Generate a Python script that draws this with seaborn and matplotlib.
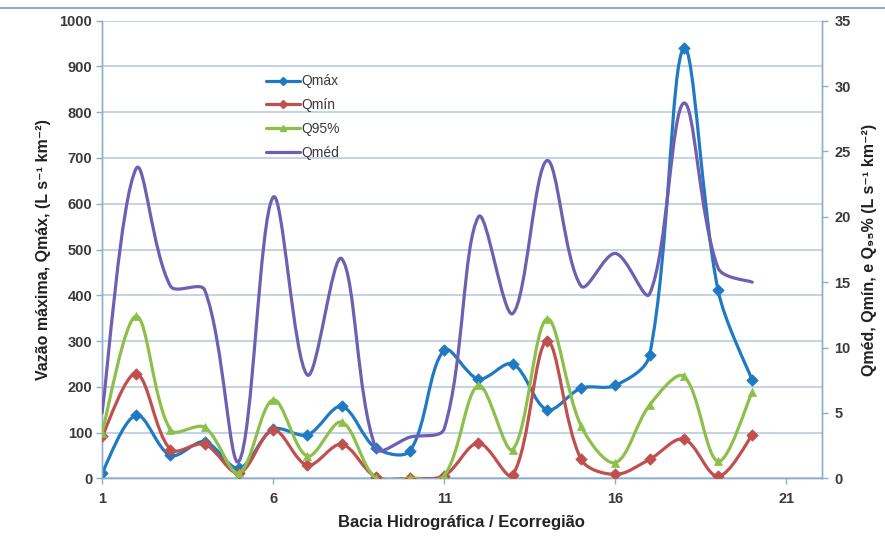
import numpy as np
import matplotlib
matplotlib.use("Agg")
import matplotlib.pyplot as plt
from matplotlib.path import Path
from matplotlib.patches import PathPatch
from matplotlib.lines import Line2D
import seaborn as sns

# data
bacia = list(range(1, 21))
q_max = [12, 138, 50, 80, 22, 107, 95, 157, 66, 60, 280, 217, 250, 150, 197, 203, 269, 940, 411, 214]
q_min = [3.2, 8.0, 2.2, 2.6, 0.4, 3.7, 1.0, 2.6, 0.1, 0.0, 0.2, 2.7, 0.25, 10.5, 1.45, 0.3, 1.45, 3.0, 0.15, 3.3]
q_95 = [3.5, 12.4, 3.7, 3.9, 0.4, 6.0, 1.7, 4.3, 0.0, 0.0, 0.2, 7.1, 2.2, 12.2, 4.0, 1.2, 5.6, 7.8, 1.3, 6.6]
q_med = [5.0, 23.7, 14.7, 14.4, 1.3, 21.5, 7.9, 16.8, 2.3, 3.15, 3.8, 20.0, 12.6, 24.3, 14.7, 17.2, 14.1, 28.7, 16.1, 15.0]

c_max = "#2079C3"
c_min = "#C0504D"
c_95 = "#8DC04A"
c_med = "#6F5FB0"
grid_c = "#B7CCE0"
axis_c = "#8EAECB"
txt_c = "#3a3a3a"

sns.set_style("white")
plt.rcParams["font.family"] = ["Liberation Sans", "DejaVu Sans"]


def smooth_path(ax, x, y):
    # excel-like smoothed line: bezier through each point, tangents weighted
    # by segment length on screen
    pix = ax.transData.transform(np.column_stack([x, y]).astype(float))
    n = len(pix)
    d = np.hypot(*np.diff(pix, axis=0).T)
    verts = [pix[0]]
    codes = [Path.MOVETO]
    for i in range(n - 1):
        a = max(i - 1, 0)
        b = min(i + 2, n - 1)
        da = d[i - 1] if i > 0 else d[i]
        db = d[i + 1] if i + 2 < n else d[i]
        c1 = pix[i] + (pix[i + 1] - pix[a]) * d[i] / (da + d[i]) / 3
        c2 = pix[i + 1] - (pix[b] - pix[i]) * d[i] / (d[i] + db) / 3
        verts += [c1, c2, pix[i + 1]]
        codes += [Path.CURVE4] * 3
    verts = ax.transData.inverted().transform(np.array(verts))
    return Path(verts, codes)


def draw_series(ax, y, color, marker, z):
    ax.add_patch(PathPatch(smooth_path(ax, bacia, y), fill=False, edgecolor=color,
                           lw=2.3, zorder=z, capstyle="round", joinstyle="round"))
    if marker:
        sns.scatterplot(x=bacia, y=y, ax=ax, color=color, marker=marker, s=34,
                        edgecolor=color, linewidth=0.5, zorder=z + 0.5, legend=False)


fig = plt.figure(figsize=(8.85, 5.39), dpi=100)
ax = fig.add_axes([0.1153, 0.1126, 0.8132, 0.849])
ax2 = ax.twinx()

# left axis
ax.set_xlim(1, 22.03)
ax.set_ylim(0, 1000)
ax.set_yticks(range(0, 1001, 100))
ax.set_xticks([1, 6, 11, 16, 21])
ax.yaxis.grid(True, color=grid_c, lw=1.2)
ax.set_axisbelow(True)

# right axis
ax2.set_xlim(1, 22.03)
ax2.set_ylim(0, 35)
ax2.set_yticks(range(0, 36, 5))

draw_series(ax, q_max, c_max, "D", 3)
draw_series(ax2, q_min, c_min, "D", 3)
draw_series(ax2, q_95, c_95, "^", 4)
draw_series(ax2, q_med, c_med, None, 5)

for a in (ax, ax2):
    for s in a.spines.values():
        s.set_color(axis_c)
        s.set_linewidth(1.0)
    a.spines["top"].set_visible(False)
    a.tick_params(axis="both", colors=axis_c, labelcolor=txt_c, labelsize=10.5,
                  length=4, width=1, pad=3)
    for lab in a.get_xticklabels() + a.get_yticklabels():
        lab.set_fontweight("bold")
ax.tick_params(axis="both", direction="out", left=True, bottom=True)
ax.tick_params(axis="x", pad=6)
ax2.tick_params(axis="y", direction="out", right=True, pad=5)

ax.set_xlabel("Bacia Hidrográfica / Ecorregião", fontsize=12, fontweight="bold",
              color="#222222", labelpad=6)
ax.set_ylabel("Vazão máxima, Qmáx, (L s⁻¹ km⁻²)", fontsize=11.5, fontweight="bold",
              color="#222222", labelpad=6)
ax2.set_ylabel("Qméd, Qmín, e Q₉₅% (L s⁻¹ km⁻²)", fontsize=11.5, fontweight="bold",
               color="#222222", labelpad=8)

handles = [
    Line2D([], [], color=c_max, lw=2.3, marker="D", ms=4),
    Line2D([], [], color=c_min, lw=2.3, marker="D", ms=4),
    Line2D([], [], color=c_95, lw=2.3, marker="^", ms=5),
    Line2D([], [], color=c_med, lw=2.3),
]
labels = ["Qmáx", "Qmín", "Q95%", "Qméd"]
leg = ax2.legend(handles, labels, loc="upper left", bbox_to_anchor=(0.21, 0.91),
                 frameon=False, fontsize=10, handlelength=2.5, handletextpad=0.1,
                 labelspacing=0.7)
for t in leg.get_texts():
    t.set_color(txt_c)

# thin frame line at the top of the picture
fig.add_artist(Line2D([0, 1], [0.985, 0.985], transform=fig.transFigure,
                      color=axis_c, lw=1.5))

fig.savefig("out.png", dpi=100)
